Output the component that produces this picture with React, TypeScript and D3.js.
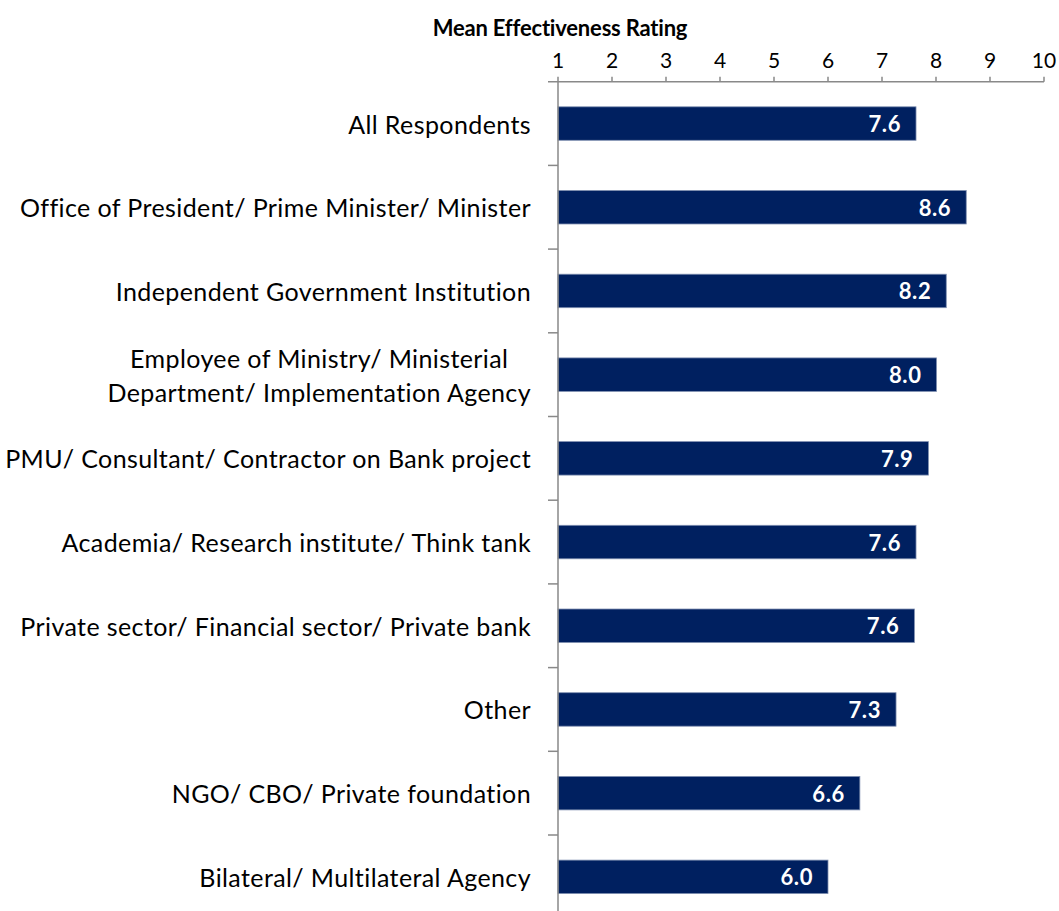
import { useEffect, useRef } from 'react';
import * as d3 from 'd3';

const CATEGORIES = [
  'All Respondents',
  'Office of President/ Prime Minister/ Minister',
  'Independent Government Institution',
  'Employee of Ministry/ Ministerial\nDepartment/ Implementation Agency',
  'PMU/ Consultant/ Contractor on Bank project',
  'Academia/ Research institute/ Think tank',
  'Private sector/ Financial sector/ Private bank',
  'Other',
  'NGO/ CBO/ Private foundation',
  'Bilateral/ Multilateral Agency',
];

const VALUES = [7.63, 8.56, 8.19, 8.01, 7.86, 7.63, 7.6, 7.26, 6.59, 6.0];

const TICKS = [1, 2, 3, 4, 5, 6, 7, 8, 9, 10];

const TITLE = 'Mean Effectiveness Rating';

const FONT = 'Lato, "Open Sans", sans-serif';

export default function App() {
  const svgRef = useRef<SVGSVGElement>(null);

  useEffect(() => {
    if (!svgRef.current) return;
    const width = 1059;
    const height = 911;
    const axisColor = '#898989';

    const svg = d3.select(svgRef.current);
    svg.selectAll('*').remove();
    svg.attr('width', width).attr('height', height);

    const x = d3.scaleLinear().domain([1, 10]).range([558, 1044]);
    const y = d3.scaleBand<string>()
      .domain(CATEGORIES)
      .range([81.7, 918.7])
      .paddingInner(0.6)
      .paddingOuter(0.3);
    const step = y.step();
    const top = y.range()[0];

    // title
    svg.append('text')
      .attr('x', 560)
      .attr('y', 27)
      .attr('text-anchor', 'middle')
      .attr('dominant-baseline', 'central')
      .attr('font-family', FONT)
      .attr('font-weight', 700)
      .attr('font-size', '22px')
      .attr('letter-spacing', '-0.2px')
      .attr('fill', '#000')
      .text(TITLE);

    // bars
    const bars = svg.append('g');
    CATEGORIES.forEach((c, i) => {
      const v = VALUES[i];
      bars.append('rect')
        .attr('x', x(1))
        .attr('y', y(c)!)
        .attr('width', x(v) - x(1))
        .attr('height', y.bandwidth())
        .attr('fill', '#002060')
        .attr('stroke', '#7f8fb0')
        .attr('stroke-width', 0.8);

      bars.append('text')
        .attr('x', x(v) - 15)
        .attr('y', y(c)! + y.bandwidth() / 2)
        .attr('text-anchor', 'end')
        .attr('dominant-baseline', 'central')
        .attr('font-family', FONT)
        .attr('font-weight', 700)
        .attr('font-size', '22px')
        .attr('letter-spacing', '0.6px')
        .attr('fill', '#fff')
        .text(v.toFixed(1));
    });

    // top axis
    const axisG = svg.append('g');
    axisG.append('line')
      .attr('x1', x(1) - 10).attr('x2', x(10))
      .attr('y1', top).attr('y2', top)
      .attr('stroke', axisColor).attr('stroke-width', 1.5);
    TICKS.forEach((t) => {
      axisG.append('line')
        .attr('x1', x(t)).attr('x2', x(t))
        .attr('y1', top - 5).attr('y2', top)
        .attr('stroke', axisColor).attr('stroke-width', 1.5);
      axisG.append('text')
        .attr('x', x(t))
        .attr('y', 59)
        .attr('text-anchor', 'middle')
        .attr('dominant-baseline', 'central')
        .attr('font-family', FONT)
        .attr('font-size', '21px')
        .attr('fill', '#000')
        .text(t);
    });

    // left axis
    axisG.append('line')
      .attr('x1', x(1)).attr('x2', x(1))
      .attr('y1', top).attr('y2', top + step * CATEGORIES.length)
      .attr('stroke', axisColor).attr('stroke-width', 1.5);
    d3.range(1, CATEGORIES.length + 1).forEach((k) => {
      axisG.append('line')
        .attr('x1', x(1) - 10).attr('x2', x(1))
        .attr('y1', top + k * step).attr('y2', top + k * step)
        .attr('stroke', axisColor).attr('stroke-width', 1.5);
    });

    // category labels
    const labelRight = 531;
    CATEGORIES.forEach((c) => {
      const lines = c.split('\n');
      const cy = y(c)! + y.bandwidth() / 2;
      const g = svg.append('g');
      const texts = lines.map((ln, j) =>
        g.append('text')
          .attr('y', cy + (j - (lines.length - 1) / 2) * 34)
          .attr('dominant-baseline', 'central')
          .attr('font-family', FONT)
          .attr('font-size', '25px')
          .attr('letter-spacing', '0.4px')
          .attr('fill', '#000')
          .text(ln)
      );
      const widths = texts.map((t) => (t.node() as SVGTextElement).getComputedTextLength());
      const maxW = d3.max(widths) || 0;
      texts.forEach((t) => {
        t.attr('x', labelRight - maxW / 2).attr('text-anchor', 'middle');
      });
    });
  }, []);

  return (
    <svg
      ref={svgRef}
      style={{ position: 'absolute', left: 0, top: 0, display: 'block', background: '#fff' }}
    />
  );
}
